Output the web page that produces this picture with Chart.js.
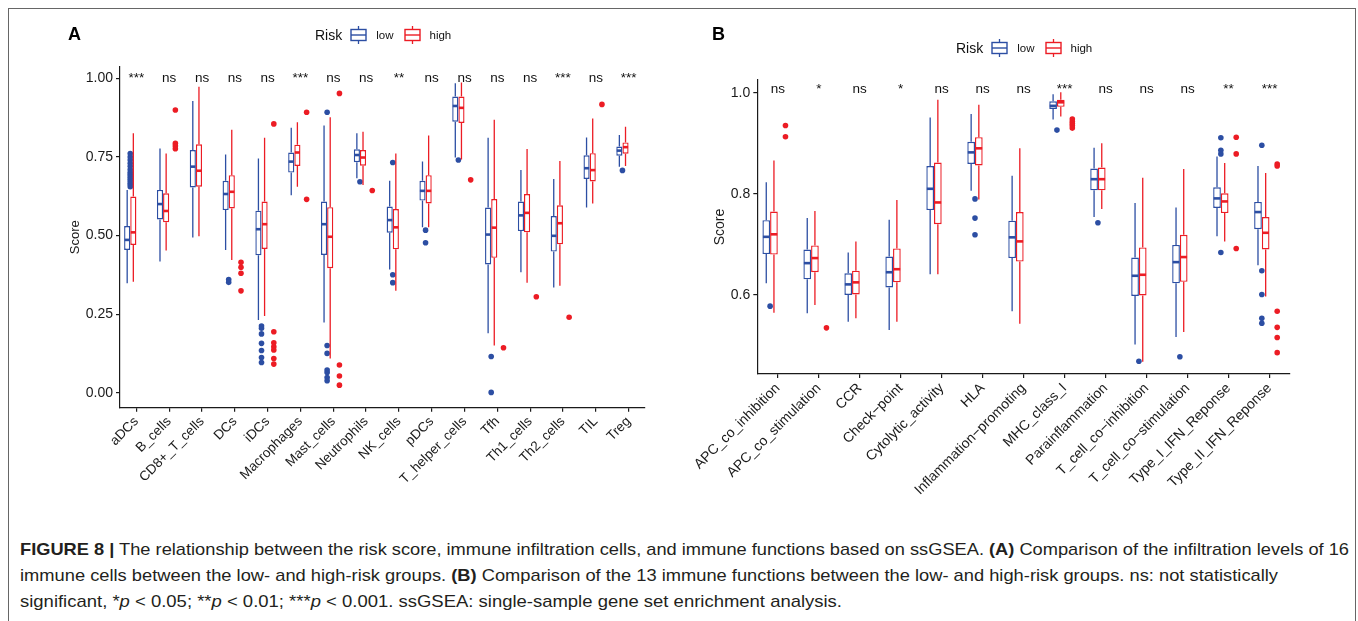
<!DOCTYPE html>
<html>
<head>
<meta charset="utf-8">
<script src="https://cdn.jsdelivr.net/npm/chart.js@4.4.1/dist/chart.umd.min.js"></script>
<style>
  html, body { margin: 0; padding: 0; background: #fff; }
  #page { position: relative; width: 1358px; height: 621px; overflow: hidden; background: #fff; font-family: 'Liberation Sans', Arial, Helvetica, sans-serif; }
  #frame { position: absolute; left: 8px; top: 8px; width: 1346px; height: 700px; border: 1.5px solid #666; border-bottom: none; }
  canvas { position: absolute; }
  .panel { position: absolute; font-weight: bold; font-size: 18px; color: #000; }
  .legend { position: absolute; display: flex; align-items: center; color: #111; }
  .legend .title { font-size: 14px; margin-right: 8px; }
  .legend .lab { font-size: 11.5px; margin: 0 10px 0 9px; }
  .legend svg { display: block; }
  .cap { position: absolute; left: 20px; color: #231f20; font-size: 17px; white-space: nowrap; transform-origin: 0 0; }
</style>
</head>
<body>
<div id="page">
  <div id="frame"></div>
  <canvas id="chartA" width="640" height="500" style="left:40px;top:0px;"></canvas>
  <canvas id="chartB" width="660" height="510" style="left:690px;top:0px;"></canvas>
  <div class="panel" style="left:68px;top:24px;">A</div>
  <div class="panel" style="left:712px;top:24px;">B</div>
  <div class="legend" style="left:315px;top:26px;" id="legA"></div>
  <div class="legend" style="left:956px;top:39px;" id="legB"></div>
  <div class="cap" id="cap1" style="top:540px;"><b>FIGURE 8 |</b> The relationship between the risk score, immune infiltration cells, and immune functions based on ssGSEA. <b>(A)</b> Comparison of the infiltration levels of 16</div>
  <div class="cap" id="cap2" style="top:566px;">immune cells between the low- and high-risk groups. <b>(B)</b> Comparison of the 13 immune functions between the low- and high-risk groups. ns: not statistically</div>
  <div class="cap" id="cap3" style="top:592px;">significant, *<i>p</i> &lt; 0.05; **<i>p</i> &lt; 0.01; ***<i>p</i> &lt; 0.001. ssGSEA: single-sample gene set enrichment analysis.</div>
</div>
<script>
// ---------------- Panel A data ----------------
const catsA = ['aDCs','B_cells','CD8+_T_cells','DCs','iDCs','Macrophages','Mast_cells','Neutrophils','NK_cells','pDCs','T_helper_cells','Tfh','Th1_cells','Th2_cells','TIL','Treg'];
const sigA  = ['***','ns','ns','ns','ns','***','ns','ns','**','ns','ns','ns','ns','***','ns','***'];
const yTicksA = [0, 0.25, 0.5, 0.75, 1.0];

const minLowA = [0.348,0.417,0.494,0.454,0.231,0.628,0.223,0.682,0.392,0.526,0.748,0.189,0.383,0.335,0.589,0.719];
const q1LowA  = [0.454,0.551,0.653,0.581,0.437,0.700,0.438,0.733,0.509,0.611,0.862,0.408,0.514,0.449,0.680,0.754];
const medLowA = [0.486,0.600,0.719,0.632,0.520,0.735,0.536,0.756,0.549,0.642,0.912,0.503,0.564,0.499,0.714,0.770];
const q3LowA  = [0.530,0.645,0.772,0.674,0.579,0.764,0.608,0.774,0.592,0.674,0.942,0.589,0.608,0.562,0.755,0.783];
const maxLowA = [0.645,0.777,0.928,0.758,0.745,0.843,0.850,0.825,0.674,0.735,0.984,0.811,0.708,0.680,0.812,0.820];
const outLowA = [
  [0.655,0.662,0.668,0.675,0.681,0.688,0.695,0.701,0.710,0.720,0.730,0.740,0.750,0.761],
  [], [], [0.360,0.351],
  [0.212,0.205,0.187,0.157,0.134,0.112,0.096],
  [], [0.892,0.150,0.125,0.072,0.064,0.048,0.038], [0.671],
  [0.732,0.375,0.350], [0.517,0.477], [0.740], [0.115,0.001],
  [], [], [], [0.707]
];

const minHighA = [0.353,0.452,0.498,0.422,0.244,0.655,0.109,0.661,0.324,0.526,0.742,0.150,0.350,0.340,0.602,0.721];
const q1HighA  = [0.470,0.542,0.655,0.586,0.457,0.721,0.396,0.722,0.456,0.602,0.858,0.429,0.510,0.472,0.672,0.760];
const medHighA = [0.510,0.578,0.706,0.639,0.536,0.764,0.496,0.748,0.526,0.642,0.906,0.525,0.572,0.539,0.708,0.781];
const q3HighA  = [0.624,0.634,0.790,0.692,0.608,0.789,0.590,0.772,0.584,0.692,0.942,0.616,0.632,0.596,0.762,0.796];
const maxHighA = [0.825,0.761,0.973,0.836,0.811,0.860,0.876,0.830,0.761,0.818,0.987,0.868,0.775,0.737,0.872,0.846];
const outHighA = [
  [], [0.899,0.793,0.785,0.776], [], [0.415,0.399,0.380,0.324],
  [0.855,0.194,0.159,0.146,0.136,0.109,0.091],
  [0.892,0.615], [0.952,0.088,0.053,0.024], [0.643],
  [], [], [0.677], [0.143],
  [0.305], [0.240], [0.917], []
];

// ---------------- Panel B data ----------------
const catsB = ['APC_co_inhibition','APC_co_stimulation','CCR','Check\u2212point','Cytolytic_activity','HLA','Inflammation\u2212promoting','MHC_class_I','Parainflammation','T_cell_co\u2212inhibition','T_cell_co\u2212stimulation','Type_I_IFN_Reponse','Type_II_IFN_Reponse'];
const sigB  = ['ns','*','ns','*','ns','ns','ns','***','ns','ns','ns','**','***'];
const yTicksB = [0.6, 0.8, 1.0];

const minLowB = [0.623,0.564,0.547,0.531,0.641,0.806,0.568,0.947,0.754,0.502,0.517,0.716,0.659];
const q1LowB  = [0.681,0.631,0.600,0.615,0.768,0.859,0.673,0.968,0.807,0.598,0.623,0.772,0.730];
const medLowB = [0.715,0.663,0.621,0.645,0.810,0.882,0.714,0.974,0.829,0.638,0.665,0.791,0.764];
const q3LowB  = [0.748,0.690,0.643,0.676,0.855,0.903,0.747,0.983,0.850,0.674,0.699,0.813,0.784];
const maxLowB = [0.823,0.752,0.684,0.749,0.951,0.958,0.836,0.997,0.891,0.782,0.773,0.874,0.855];
const outLowB = [
  [0.578], [], [], [], [], [0.790,0.752,0.719], [], [0.926], [0.743],
  [0.469], [0.478], [0.911,0.886,0.879,0.684], [0.896,0.648,0.601,0.554,0.544]
];

const minHighB = [0.565,0.580,0.554,0.547,0.641,0.789,0.543,0.953,0.770,0.468,0.527,0.706,0.597];
const q1HighB  = [0.680,0.645,0.601,0.625,0.740,0.856,0.666,0.972,0.807,0.599,0.626,0.762,0.690];
const medHighB = [0.720,0.673,0.625,0.651,0.783,0.890,0.706,0.981,0.829,0.640,0.675,0.785,0.723];
const q3HighB  = [0.765,0.698,0.648,0.692,0.862,0.912,0.764,0.986,0.852,0.694,0.719,0.801,0.754];
const maxHighB = [0.866,0.766,0.706,0.788,0.986,0.976,0.890,1.001,0.900,0.832,0.849,0.861,0.841];
const outHighB = [
  [0.935,0.913], [0.535], [], [], [], [], [], [0.948,0.943,0.939,0.935,0.930], [],
  [], [], [0.912,0.879,0.692], [0.859,0.855,0.568,0.536,0.516,0.486]
];

// ---------------- styling ----------------
const BLUE = '#2c4ea3';
const RED = '#ec1c24';
const FONT = "'Liberation Sans', Arial, Helvetica, sans-serif";
const AXIS = '#1a1a1a';

const boxParts = {
  id: 'boxParts',
  afterDatasetsDraw(chart, args, opts) {
    const ctx = chart.ctx;
    const ys = chart.scales.y;
    const xs = chart.scales.x;
    chart.data.datasets.forEach((ds, di) => {
      if (!ds.stats) return;
      const meta = chart.getDatasetMeta(di);
      const s = ds.stats;
      meta.data.forEach((bar, i) => {
        const x = bar.x, w = bar.width;
        ctx.save();
        ctx.strokeStyle = ds.borderColor;
        ctx.lineWidth = opts.whiskerWidth;
        ctx.beginPath();
        ctx.moveTo(x, ys.getPixelForValue(s.q3[i]));
        ctx.lineTo(x, ys.getPixelForValue(s.max[i]));
        ctx.moveTo(x, ys.getPixelForValue(s.q1[i]));
        ctx.lineTo(x, ys.getPixelForValue(s.min[i]));
        ctx.stroke();
        ctx.lineWidth = opts.medianWidth;
        const ym = ys.getPixelForValue(s.med[i]);
        ctx.beginPath();
        ctx.moveTo(x - w / 2 + 0.5, ym);
        ctx.lineTo(x + w / 2 - 0.5, ym);
        ctx.stroke();
        ctx.restore();
      });
    });
    // significance labels
    ctx.save();
    ctx.fillStyle = '#111';
    ctx.font = opts.sigFont;
    ctx.textAlign = 'center';
    ctx.textBaseline = 'middle';
    opts.labels.forEach((t, i) => {
      ctx.fillText(t, xs.getPixelForValue(i), ys.getPixelForValue(opts.sigY));
    });
    ctx.restore();
  }
};

function makeChart(id, cats, sig, ticks, low, high, outLow, outHigh, cfg) {
  const n = cats.length;
  const half = 0.1875;
  const outData = (arr, off) => arr.flatMap((vals, i) => vals.map(v => ({ x: i + off, y: v })));
  return new Chart(document.getElementById(id), {
    type: 'bar',
    data: {
      labels: cats,
      datasets: [
        { label: 'low', data: low.q1.map((q, i) => [q, low.q3[i]]), stats: low,
          backgroundColor: '#ffffff', borderColor: BLUE, borderWidth: 1.4, borderSkipped: false,
          categoryPercentage: 0.75, barPercentage: 1.0, xAxisID: 'x', yAxisID: 'y', order: 2 },
        { label: 'high', data: high.q1.map((q, i) => [q, high.q3[i]]), stats: high,
          backgroundColor: '#ffffff', borderColor: RED, borderWidth: 1.4, borderSkipped: false,
          categoryPercentage: 0.75, barPercentage: 1.0, xAxisID: 'x', yAxisID: 'y', order: 2 },
        { type: 'scatter', label: 'lowOut', data: outData(outLow, -half), xAxisID: 'xo', yAxisID: 'y',
          pointRadius: 2.8, pointBackgroundColor: BLUE, pointBorderWidth: 0, order: 1 },
        { type: 'scatter', label: 'highOut', data: outData(outHigh, half), xAxisID: 'xo', yAxisID: 'y',
          pointRadius: 2.8, pointBackgroundColor: RED, pointBorderWidth: 0, order: 1 }
      ]
    },
    options: {
      responsive: false,
      animation: false,
      devicePixelRatio: 1,
      layout: { padding: cfg.padding },
      plugins: {
        legend: { display: false },
        tooltip: { enabled: false },
        boxParts: { whiskerWidth: 1.3, medianWidth: 2.6, labels: sig, sigY: cfg.sigY, sigFont: '13.5px ' + FONT }
      },
      scales: {
        x: {
          type: 'category', offset: true, position: 'bottom', weight: 1,
          grid: { offset: false, drawOnChartArea: false, drawTicks: true, tickLength: 4, color: AXIS, lineWidth: 1.2 },
          border: { color: AXIS, width: 1.2 },
          ticks: { autoSkip: false, minRotation: 45, maxRotation: 45, padding: 2, color: '#1a1a1a', font: { family: FONT, size: cfg.xFont } },
          afterFit: s => { s.height = cfg.xHeight; }
        },
        xo: {
          type: 'linear', display: true, position: 'bottom', weight: 0, min: -0.5, max: n - 0.5, offset: false,
          grid: { display: false, drawTicks: false }, border: { display: false },
          ticks: { display: false },
          afterFit: s => { s.height = 0; }
        },
        y: {
          type: 'linear', min: cfg.yMin, max: cfg.yMax,
          afterBuildTicks: ax => { ax.ticks = ticks.map(v => ({ value: v })); },
          grid: { drawOnChartArea: false, drawTicks: true, tickLength: 4, color: AXIS, lineWidth: 1.2 },
          border: { color: AXIS, width: 1.2 },
          ticks: { padding: 3, color: '#1a1a1a', font: { family: FONT, size: 14 }, callback: v => Number(v).toFixed(cfg.dec) },
          title: { display: true, text: 'Score', color: '#1a1a1a', font: { family: FONT, size: cfg.titleSize }, padding: { top: cfg.titlePad, bottom: 0 } },
          afterFit: s => { s.width = cfg.yWidth; }
        }
      }
    },
    plugins: [boxParts]
  });
}

makeChart('chartA', catsA, sigA, yTicksA,
  { min: minLowA, q1: q1LowA, med: medLowA, q3: q3LowA, max: maxLowA },
  { min: minHighA, q1: q1HighA, med: medHighA, q3: q3HighA, max: maxHighA },
  outLowA, outHighA,
  { padding: { top: 66.7, right: 35, bottom: 0, left: 0 }, xHeight: 92.3, yWidth: 80, xFont: 13.5,
    yMin: -0.0477, yMax: 1.0369, sigY: 1.0, dec: 2, titleSize: 13, titlePad: 28 });

makeChart('chartB', catsB, sigB, yTicksB,
  { min: minLowB, q1: q1LowB, med: medLowB, q3: q3LowB, max: maxLowB },
  { min: minHighB, q1: q1HighB, med: medHighB, q3: q3HighB, max: maxHighB },
  outLowB, outHighB,
  { padding: { top: 80, right: 60, bottom: 0, left: 0 }, xHeight: 136, yWidth: 67.3, xFont: 14,
    yMin: 0.4438, yMax: 1.0251, sigY: 1.007, dec: 1, titleSize: 14, titlePad: 22 });

// ---------------- legends ----------------
function glyph(color) {
  return '<svg width="17" height="18" viewBox="0 0 17 18"><line x1="8.5" y1="0" x2="8.5" y2="18" stroke="' + color + '" stroke-width="1.3"/>' +
    '<rect x="1" y="3.5" width="15" height="11" fill="#fff" stroke="' + color + '" stroke-width="1.4"/>' +
    '<line x1="1" y1="9" x2="16" y2="9" stroke="' + color + '" stroke-width="1.4"/></svg>';
}
function legend(id) {
  document.getElementById(id).innerHTML =
    '<span class="title">Risk</span>' + glyph(BLUE) + '<span class="lab">low</span>' + glyph(RED) + '<span class="lab">high</span>';
}
legend('legA');
legend('legB');

// ---------------- caption fitting ----------------
const capTargets = { cap1: 1329, cap2: 1258, cap3: 822 };
Object.keys(capTargets).forEach(id => {
  const el = document.getElementById(id);
  const w = el.getBoundingClientRect().width;
  el.style.transform = 'scaleX(' + (capTargets[id] / w) + ')';
});
</script>
</body>
</html>
